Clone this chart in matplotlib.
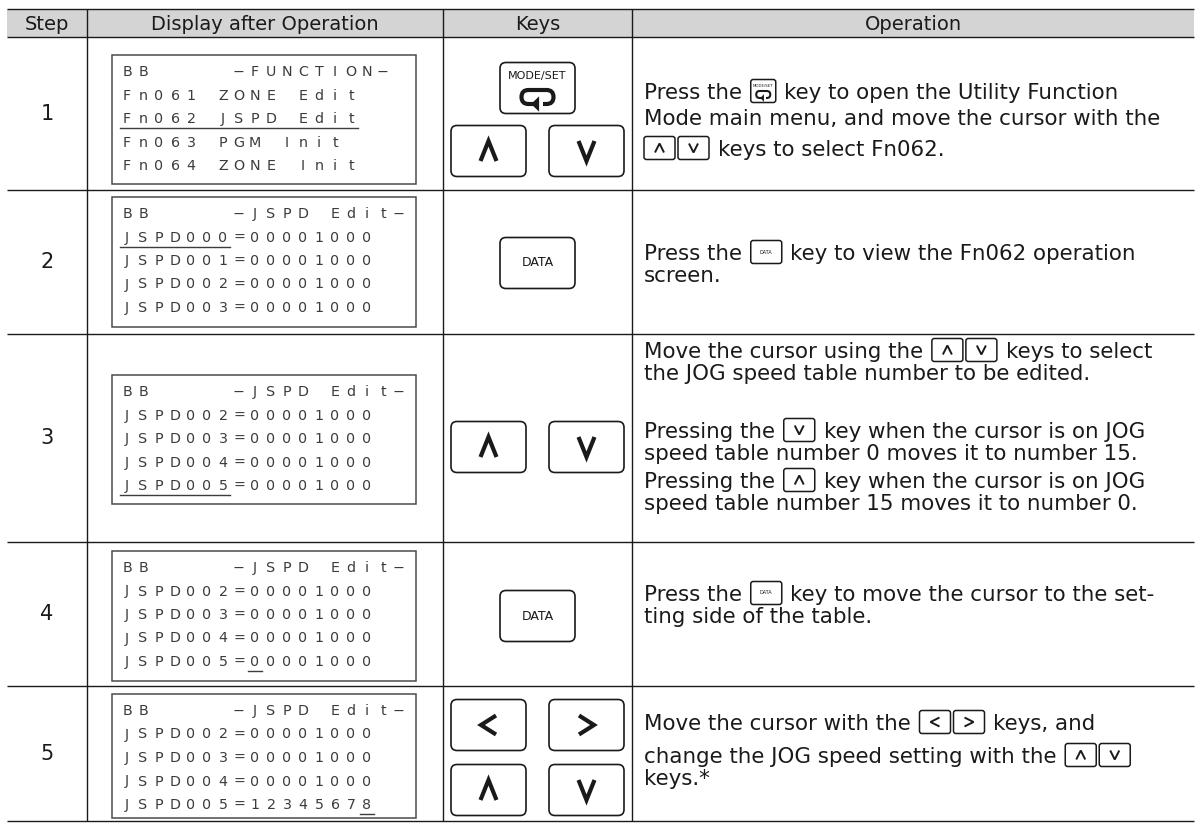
import matplotlib
matplotlib.use("Agg")
import matplotlib.pyplot as plt
from matplotlib.patches import FancyBboxPatch, Rectangle, Polygon

W, H = 1200, 823
INK = "#1a1a1a"
LCD_INK = "#3c3c3c"
HEAD_BG = "#d4d4d4"
FONT = "DejaVu Sans"

# table content
HEADERS = ["Step", "Display after Operation", "Keys", "Operation"]
STEPS = ["1", "2", "3", "4", "5"]

DISPLAY = [
    ["BB     −FUNCTION−", "Fn061 ZONE Edit", "Fn062 JSPD Edit", "Fn063 PGM Init", "Fn064 ZONE Init"],
    ["BB     −JSPD Edit−", "JSPD000=00001000", "JSPD001=00001000", "JSPD002=00001000", "JSPD003=00001000"],
    ["BB     −JSPD Edit−", "JSPD002=00001000", "JSPD003=00001000", "JSPD004=00001000", "JSPD005=00001000"],
    ["BB     −JSPD Edit−", "JSPD002=00001000", "JSPD003=00001000", "JSPD004=00001000", "JSPD005=00001000"],
    ["BB     −JSPD Edit−", "JSPD002=00001000", "JSPD003=00001000", "JSPD004=00001000", "JSPD005=12345678"],
]
# (display line, first column, last column) of the cursor underline
UNDERLINES = [(2, 0, 14), (1, 0, 6), (4, 0, 6), (4, 8, 8), (4, 15, 15)]

KEY_ROWS = [
    [["MODE"], ["UP", "DOWN"]],
    [["DATA"]],
    [["UP", "DOWN"]],
    [["DATA"]],
    [["LEFT", "RIGHT"], ["UP", "DOWN"]],
]

OPERATION = [
    [["Press the", "{MODE}", "key to open the Utility Function"],
     ["Mode main menu, and move the cursor with the"],
     ["{UP}", "{DOWN}", "keys to select Fn062."]],
    [["Press the", "{DATA}", "key to view the Fn062 operation"],
     ["screen."]],
    [["Move the cursor using the", "{UP}", "{DOWN}", "keys to select"],
     ["the JOG speed table number to be edited."],
     ["Pressing the", "{DOWN}", "key when the cursor is on JOG"],
     ["speed table number 0 moves it to number 15."],
     ["Pressing the", "{UP}", "key when the cursor is on JOG"],
     ["speed table number 15 moves it to number 0."]],
    [["Press the", "{DATA}", "key to move the cursor to the set-"],
     ["ting side of the table."]],
    [["Move the cursor with the", "{LEFT}", "{RIGHT}", "keys, and"],
     ["change the JOG speed setting with the", "{UP}", "{DOWN}"],
     ["keys.*"]],
]

# layout (pixels, y downwards)
COL_X = [7, 87, 443, 632, 1194]
ROW_Y = [9, 37, 190, 334, 542, 686, 821]
BOX_X = (112, 416)
BOX_Y = [(55, 184), (197, 327), (375, 504), (551, 681), (694, 818)]
LCD_X0, LCD_PITCH, LCD_LINE = 127, 16, 23.5
KEY_ROW_Y = [[88, 151], [263], [447], [616], [725, 790]]
OP_Y = [[91, 117, 148], [252, 274], [350, 372, 430, 452, 480, 502],
        [593, 615], [722, 755, 777]]
OP_X = 644
BODY_SIZE = 15.4

fig = plt.figure(figsize=(W / 100, H / 100), dpi=100)
ax = fig.add_axes([0, 0, 1, 1])
ax.set_xlim(0, W)
ax.set_ylim(H, 0)
ax.axis("off")
renderer = fig.canvas.get_renderer()

# ---- grid ----
ax.add_patch(Rectangle((COL_X[0], ROW_Y[0]), COL_X[-1] - COL_X[0], ROW_Y[1] - ROW_Y[0],
                       facecolor=HEAD_BG, edgecolor="none"))
for y in ROW_Y:
    ax.plot([COL_X[0], COL_X[-1]], [y, y], color=INK, lw=1.0, solid_capstyle="butt")
for x in COL_X[1:-1]:
    ax.plot([x, x], [ROW_Y[0], ROW_Y[-1]], color=INK, lw=1.0, solid_capstyle="butt")

for i, h in enumerate(HEADERS):
    ax.text((COL_X[i] + COL_X[i + 1]) / 2, (ROW_Y[0] + ROW_Y[1]) / 2 + 1, h,
            ha="center", va="center", fontsize=14, family=FONT, color=INK)

for i, s in enumerate(STEPS):
    ax.text((COL_X[0] + COL_X[1]) / 2, (ROW_Y[i + 1] + ROW_Y[i + 2]) / 2, s,
            ha="center", va="center", fontsize=15, family=FONT, color=INK)

# ---- operator display ----
for i, lines in enumerate(DISPLAY):
    top, bot = BOX_Y[i]
    ax.add_patch(Rectangle((BOX_X[0], top), BOX_X[1] - BOX_X[0], bot - top,
                           facecolor="white", edgecolor="#4a4a4a", lw=1.1))
    for li, line in enumerate(lines):
        yc = top + 17 + li * LCD_LINE
        for ci, ch in enumerate(line):
            if ch != " ":
                ax.text(LCD_X0 + ci * LCD_PITCH, yc, ch, ha="center", va="center",
                        fontsize=10.3, family=FONT, color=LCD_INK)
    li, c0, c1 = UNDERLINES[i]
    yu = top + 17 + li * LCD_LINE + 9
    ax.plot([LCD_X0 + c0 * LCD_PITCH - 7, LCD_X0 + c1 * LCD_PITCH + 7], [yu, yu],
            color=LCD_INK, lw=1.0)


# ---- key drawings ----
def chevron(kind, cx, cy, w, h, lw):
    if kind == "UP":
        xs, ys = [cx - w / 2, cx, cx + w / 2], [cy + h / 2, cy - h / 2, cy + h / 2]
    elif kind == "DOWN":
        xs, ys = [cx - w / 2, cx, cx + w / 2], [cy - h / 2, cy + h / 2, cy - h / 2]
    elif kind == "LEFT":
        xs, ys = [cx + w / 2, cx - w / 2, cx + w / 2], [cy - h / 2, cy, cy + h / 2]
    else:
        xs, ys = [cx - w / 2, cx + w / 2, cx - w / 2], [cy - h / 2, cy, cy + h / 2]
    ax.plot(xs, ys, color=INK, lw=lw, solid_joinstyle="miter", solid_capstyle="butt")


def mode_loop(cx, cy, w, h, lw):
    ax.add_patch(FancyBboxPatch((cx - w / 2, cy - h / 2), w, h,
                                boxstyle=f"round,pad=0,rounding_size={h / 2}",
                                facecolor="none", edgecolor=INK, lw=lw))
    ax.add_patch(Rectangle((cx - w * 0.12, cy + h / 2 - h * 0.3), w * 0.3, h * 0.6,
                           facecolor="white", edgecolor="none"))
    ax.add_patch(Polygon([[cx - w * 0.2, cy + h / 2], [cx + w * 0.05, cy + h / 2 - h * 0.55],
                          [cx + w * 0.05, cy + h / 2 + h * 0.55]], closed=True,
                         facecolor=INK, edgecolor="none"))


def key(kind, cx, cy, w=75, h=51):
    ax.add_patch(FancyBboxPatch((cx - w / 2, cy - h / 2), w, h,
                                boxstyle="round,pad=0,rounding_size=6",
                                facecolor="white", edgecolor=INK, lw=1.2))
    if kind == "DATA":
        ax.text(cx, cy, "DATA", ha="center", va="center", fontsize=9,
                family=FONT, color=INK)
    elif kind == "MODE":
        ax.text(cx, cy - 12, "MODE/SET", ha="center", va="center", fontsize=8,
                family=FONT, color=INK)
        mode_loop(cx, cy + 9, 32, 14, 3.0)
    else:
        if kind in ("UP", "DOWN"):
            chevron(kind, cx, cy, 16, 20, 3.0)
        else:
            chevron(kind, cx, cy, 15, 19, 3.0)


for i, rows in enumerate(KEY_ROWS):
    mid = (COL_X[2] + COL_X[3]) / 2
    for r, row in enumerate(rows):
        cy = KEY_ROW_Y[i][r]
        if len(row) == 1:
            key(row[0], mid, cy)
        else:
            key(row[0], mid - 49, cy)
            key(row[1], mid + 49, cy)


# ---- operation text with inline key icons ----
ICON_W = {"{UP}": 31, "{DOWN}": 31, "{LEFT}": 31, "{RIGHT}": 31, "{DATA}": 31, "{MODE}": 25}
ICON_H = 23


def small_icon(tok, x, yc):
    w, h = ICON_W[tok], ICON_H
    ax.add_patch(FancyBboxPatch((x, yc - h / 2), w, h,
                                boxstyle="round,pad=0,rounding_size=2.5",
                                facecolor="white", edgecolor=INK, lw=1.1))
    cx = x + w / 2
    if tok == "{DATA}":
        ax.text(cx, yc, "DATA", ha="center", va="center", fontsize=3.6,
                family=FONT, color=INK)
    elif tok == "{MODE}":
        ax.text(cx, yc - 5.5, "MODE/SET", ha="center", va="center", fontsize=2.8,
                family=FONT, color=INK)
        mode_loop(cx, yc + 3.5, 14, 7, 1.5)
    else:
        chevron(tok.strip("{}"), cx, yc, 9, 9, 1.4)


def width_of(s):
    t = ax.text(0, 0, s, fontsize=BODY_SIZE, family=FONT)
    wpx = t.get_window_extent(renderer).width
    t.remove()
    return wpx


SPACE = width_of("a a") - width_of("aa")
CAP = BODY_SIZE * 100 / 72 * 0.729

for i, lines in enumerate(OPERATION):
    for li, segs in enumerate(lines):
        yc = OP_Y[i][li]
        x = OP_X
        prev = None
        for seg in segs:
            is_icon = seg in ICON_W
            if prev is not None:
                x += 3 if (is_icon and prev) else SPACE + 2
            if is_icon:
                small_icon(seg, x, yc)
                x += ICON_W[seg]
            else:
                ax.text(x, yc + CAP / 2, seg, ha="left", va="baseline",
                        fontsize=BODY_SIZE, family=FONT, color=INK)
                x += width_of(seg)
            prev = is_icon

fig.savefig("out.png", dpi=100, facecolor="white")
